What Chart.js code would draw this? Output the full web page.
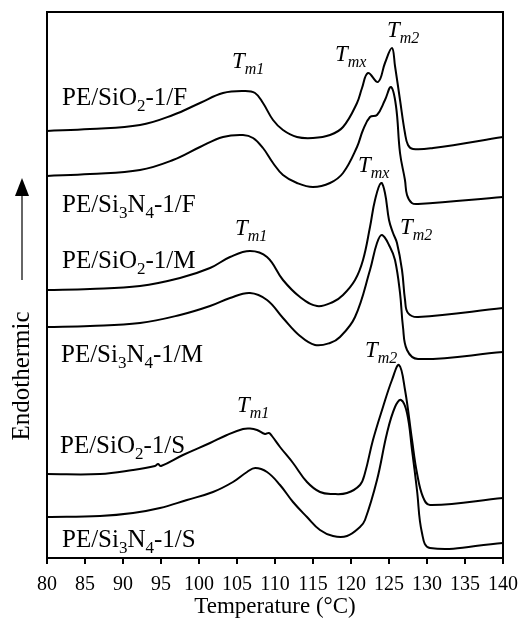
<!DOCTYPE html>
<html>
<head>
<meta charset="utf-8">
<script src="https://cdn.jsdelivr.net/npm/chart.js@4.4.1/dist/chart.umd.min.js"></script>
<style>
  html, body { margin: 0; padding: 0; background: #fff; }
</style>
</head>
<body>
<canvas id="dsc" width="521" height="622"></canvas>
<script>
// temperature (°C) and stacked heat flow (a.u., curves offset)
const sioF_T = [80, 85.66, 92.24, 96.58, 100.13, 103.16, 105.92, 107.37, 108.42, 109.74, 111.05, 112.89, 115.0, 117.24, 118.95, 120.79, 121.45, 122.24, 123.55, 124.47, 125.39, 125.79, 126.45, 127.1, 127.5, 128.16, 130.8, 140];
const sioF_Y = [427, 429, 433, 443, 455, 465, 467, 465, 455, 438, 428, 421, 420, 423, 431, 455, 470, 485, 476, 495, 510, 492, 458, 425, 413, 409, 410, 421];

const sinF_T = [80, 85.66, 92.24, 96.58, 100.13, 103.16, 105.79, 107.11, 108.42, 109.74, 111.05, 112.89, 115.0, 117.24, 118.95, 120.79, 121.58, 122.5, 123.42, 124.47, 125.26, 125.92, 126.45, 127.1, 127.37, 128.0, 128.82, 140];
const sinF_Y = [382, 384, 388, 398, 411, 421, 423, 420, 410, 395, 383, 375, 371, 375, 385, 411, 428, 441, 443, 458, 471, 452, 405, 378, 363, 355, 354, 361];

const sioM_T = [80, 85.66, 92.24, 97.5, 101.45, 104.08, 106.71, 108.95, 111.05, 113.29, 115.53, 117.63, 118.95, 120.53, 121.58, 122.5, 123.16, 123.95, 124.47, 125.0, 125.53, 126.05, 126.71, 127.11, 127.5, 128.82, 140];
const sioM_Y = [268, 269, 272, 280, 290, 301, 307, 301, 278, 261, 252, 256, 263, 278, 298, 331, 358, 375, 365, 338, 325, 315, 288, 258, 245, 241, 250];

const sinM_T = [80, 85.66, 92.24, 97.5, 101.45, 104.08, 106.71, 108.95, 111.05, 113.29, 115.26, 117.24, 118.55, 120.53, 122.5, 123.42, 124.08, 125.13, 125.79, 126.45, 126.84, 127.37, 128.82, 140];
const sinM_Y = [231, 232, 235, 243, 252, 260, 265, 258, 240, 222, 213, 215, 221, 241, 288, 315, 323, 311, 298, 265, 231, 208, 199, 206];

const sioS_T = [80, 86.97, 91.32, 94.21, 94.61, 95.0, 97.89, 101.45, 103.68, 105.79, 106.71, 107.63, 108.68, 109.2, 109.6, 110.66, 112.37, 114.21, 115.92, 117.63, 119.47, 121.18, 121.84, 122.89, 124.21, 125.39, 126.32, 127.11, 128.03, 128.68, 129.47, 130.39, 140];
const sioS_Y = [84, 84, 88, 92, 94, 92, 103, 115, 123, 129, 129.5, 128, 124, 125, 122, 111, 95, 76, 66, 64, 65, 73, 85, 118, 151, 178, 193, 168, 118, 85, 61, 53, 60];

const sinS_T = [80, 86.97, 91.32, 94.87, 98.42, 101.84, 104.47, 106.32, 107.4, 108.95, 110.66, 112.37, 114.21, 115.92, 117.63, 119.47, 121.18, 121.84, 123.42, 124.74, 125.79, 126.58, 127.37, 128.03, 128.68, 129.34, 130.39, 140];
const sinS_Y = [41, 42, 45, 50, 58, 66, 76, 86, 90, 86, 73, 56, 41, 28, 22, 22, 31, 38, 78, 125, 151, 158, 145, 108, 68, 25, 10, 15];

const xTicks = [80, 85, 90, 95, 100, 105, 110, 115, 120, 125, 130, 135, 140];

const FONT = '"Liberation Serif", "Times New Roman", serif';

// text placed in data coordinates: left edge, baseline
const sampleLabels = [
    { x: 81.97, y: 453, parts: [['PE/SiO'], ['2', 1], ['-1/F']] },
    { x: 81.97, y: 346, parts: [['PE/Si'], ['3', 1], ['N'], ['4', 1], ['-1/F']] },
    { x: 81.97, y: 290, parts: [['PE/SiO'], ['2', 1], ['-1/M']] },
    { x: 81.84, y: 196, parts: [['PE/Si'], ['3', 1], ['N'], ['4', 1], ['-1/M']] },
    { x: 81.71, y: 105, parts: [['PE/SiO'], ['2', 1], ['-1/S']] },
    { x: 81.97, y: 11, parts: [['PE/Si'], ['3', 1], ['N'], ['4', 1], ['-1/S']] }
];
const peakLabels = [
    { x: 104.34, y: 490, sub: 'm1' },
    { x: 117.89, y: 497, sub: 'mx' },
    { x: 124.74, y: 521, sub: 'm2' },
    { x: 120.92, y: 386, sub: 'mx' },
    { x: 104.74, y: 323, sub: 'm1' },
    { x: 126.45, y: 324, sub: 'm2' },
    { x: 121.84, y: 201, sub: 'm2' },
    { x: 105.0, y: 146, sub: 'm1' }
];

function toPoints(ts, ys) {
    return ts.map((t, i) => ({ x: t, y: ys[i] }));
}

function curve(ts, ys) {
    return {
        data: toPoints(ts, ys),
        borderColor: '#000',
        borderWidth: 2,
        pointRadius: 0,
        fill: false,
        tension: 0.4
    };
}

function drawRich(ctx, x, y, parts, size, italic, subScale, subDrop) {
    let cx = x;
    parts.forEach(p => {
        const sub = p[1];
        const fs = sub ? Math.round(size * subScale) : size;
        ctx.font = (italic ? 'italic ' : '') + fs + 'px ' + FONT;
        ctx.fillText(p[0], cx, y + (sub ? subDrop : 0));
        cx += ctx.measureText(p[0]).width;
    });
}

const decorations = {
    id: 'decorations',
    afterDraw(chart) {
        const ctx = chart.ctx;
        const a = chart.chartArea;
        const xs = chart.scales.x, ys = chart.scales.y;
        ctx.save();
        ctx.strokeStyle = '#000';
        ctx.lineWidth = 2;
        ctx.strokeRect(a.left, a.top, a.right - a.left, a.bottom - a.top);

        ctx.fillStyle = '#000';
        ctx.textAlign = 'left';
        ctx.textBaseline = 'alphabetic';
        sampleLabels.forEach(l => {
            drawRich(ctx, xs.getPixelForValue(l.x), ys.getPixelForValue(l.y), l.parts, 25, false, 0.68, 6);
        });
        peakLabels.forEach(l => {
            drawRich(ctx, xs.getPixelForValue(l.x), ys.getPixelForValue(l.y), [['T'], [l.sub, 1]], 23, true, 0.68, 6);
        });

        // y-axis caption with arrow
        ctx.strokeStyle = '#333';
        ctx.lineWidth = 1.5;
        ctx.beginPath();
        ctx.moveTo(22, 280);
        ctx.lineTo(22, 192);
        ctx.stroke();
        ctx.fillStyle = '#000';
        ctx.beginPath();
        ctx.moveTo(22, 178);
        ctx.lineTo(15, 196);
        ctx.lineTo(29, 196);
        ctx.closePath();
        ctx.fill();

        ctx.translate(22, 376);
        ctx.rotate(-Math.PI / 2);
        ctx.textAlign = 'center';
        ctx.textBaseline = 'middle';
        ctx.font = '25px ' + FONT;
        ctx.fillText('Endothermic', 0, 0);
        ctx.restore();
    }
};

Chart.defaults.font.family = FONT;
Chart.defaults.color = '#000';

new Chart(document.getElementById('dsc'), {
    type: 'line',
    data: {
        datasets: [
            curve(sioF_T, sioF_Y),
            curve(sinF_T, sinF_Y),
            curve(sioM_T, sioM_Y),
            curve(sinM_T, sinM_Y),
            curve(sioS_T, sioS_Y),
            curve(sinS_T, sinS_Y)
        ]
    },
    options: {
        responsive: false,
        animation: false,
        layout: { padding: { left: 47, right: 18, top: 12, bottom: 0 } },
        plugins: {
            legend: { display: false },
            tooltip: { enabled: false }
        },
        scales: {
            x: {
                type: 'linear',
                min: 80,
                max: 140,
                afterFit(scale) {
                    scale.height = 64;
                    scale.paddingLeft = 0;
                    scale.paddingRight = 0;
                },
                afterBuildTicks(scale) { scale.ticks = xTicks.map(v => ({ value: v })); },
                ticks: { font: { size: 20 }, color: '#000', padding: 9, maxRotation: 0 },
                grid: { drawOnChartArea: false, drawTicks: true, tickLength: 6, color: '#000', lineWidth: 2 },
                border: { display: true, color: '#000', width: 2 },
                title: { display: true, text: 'Temperature (°C)', font: { size: 23 }, color: '#000', padding: { top: 0, bottom: 1 } }
            },
            y: {
                display: false,
                min: 0,
                max: 546
            }
        }
    },
    plugins: [decorations]
});
</script>
</body>
</html>
